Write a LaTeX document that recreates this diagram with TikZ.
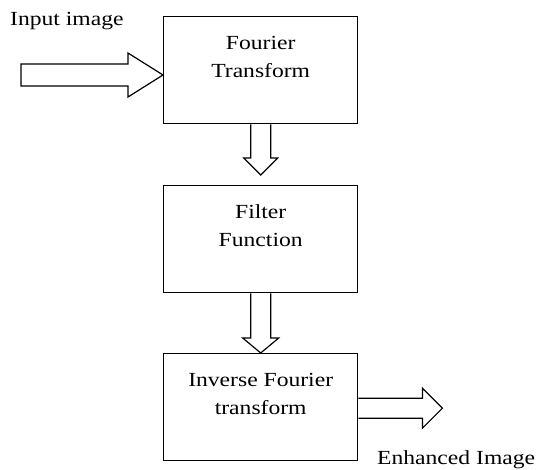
\documentclass[tikz,border=0pt]{standalone}
\usepackage{fontspec}
\setmainfont[FakeStretch=1.18]{Liberation Serif}
\usetikzlibrary{calc}
\begin{document}
\begin{tikzpicture}[x=1pt,y=-1pt,
  stagebox/.style={draw, line width=1.4pt, anchor=north west, minimum width=194pt,
    inner xsep=0pt, inner ysep=0pt, align=center, text height=61pt, text depth=46pt,
    font=\fontsize{20}{28}\selectfont},
  tag/.style={anchor=base west, inner sep=0pt, font=\fontsize{20}{24}\selectfont},
  blockarrow/.style={draw, line width=1.2pt, fill=white, line join=miter}]
\useasboundingbox (0,0) rectangle (539,470);
\node[stagebox] (b1) at (163,16) {Fourier\\Transform};
\node[stagebox] (b2) at (163,185) {Filter\\Function};
\node[stagebox] (b3) at (163,353) {Inverse Fourier\\transform};
\node[tag] (lin) at (10,26) {Input image};
\node[tag] (lout) at (377,465) {Enhanced Image};
\coordinate (in) at (21,75);
% input arrow
\draw[blockarrow] ($(in)+(0,-11)$) -- ($(b1.west|-in)+(-35,-11)$) -- ($(b1.west|-in)+(-35,-22)$)
  -- (b1.west|-in) -- ($(b1.west|-in)+(-35,22)$) -- ($(b1.west|-in)+(-35,11)$) -- ($(in)+(0,11)$) -- cycle;
% b1 -> b2
\draw[blockarrow] ($(b1.south)+(-10,0)$) -- ($(b2.north)+(-10,-27)$) -- ($(b2.north)+(-17,-27)$)
  -- ($(b2.north)+(0,-10)$) -- ($(b2.north)+(17,-27)$) -- ($(b2.north)+(10,-27)$) -- ($(b1.south)+(10,0)$);
% b2 -> b3
\draw[blockarrow] ($(b2.south)+(-10,0)$) -- ($(b3.north)+(-10,-15)$) -- ($(b3.north)+(-18,-15)$)
  -- (b3.north) -- ($(b3.north)+(18,-15)$) -- ($(b3.north)+(10,-15)$) -- ($(b2.south)+(10,0)$);
% output arrow
\coordinate (out) at ($(b3.east)+(84,1)$);
\draw[blockarrow] ($(b3.east|-out)+(0,-10)$) -- ($(out)+(-20,-10)$) -- ($(out)+(-20,-20)$)
  -- (out) -- ($(out)+(-20,20)$) -- ($(out)+(-20,10)$) -- ($(b3.east|-out)+(0,10)$);
\end{tikzpicture}
\end{document}
